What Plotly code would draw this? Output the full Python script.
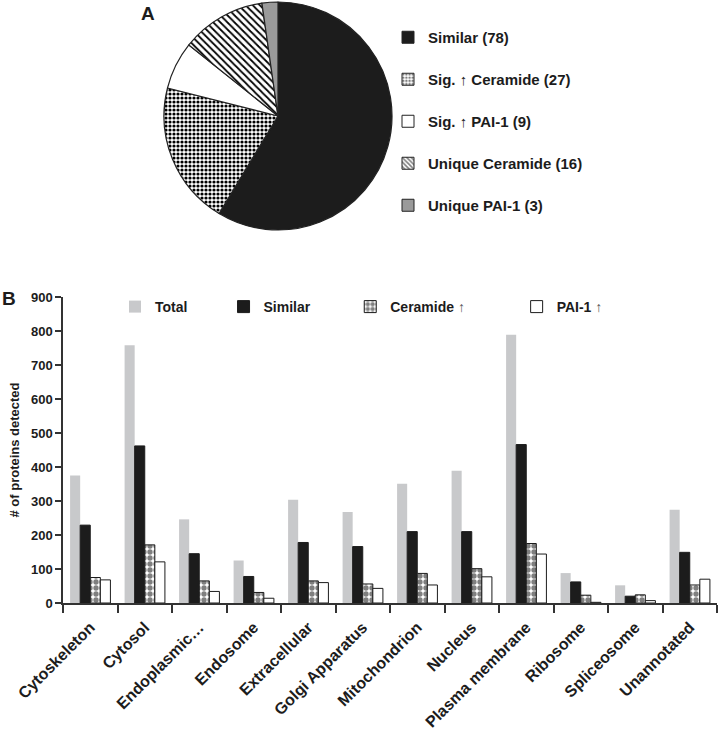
import plotly.graph_objects as go

# ---------------- data ----------------
pie_labels = ["Similar (78)", "Sig. \u2191 Ceramide (27)", "Sig. \u2191 PAI-1 (9)",
              "Unique Ceramide (16)", "Unique PAI-1 (3)"]
pie_values = [78, 27, 9, 16, 3]

categories = ["Cytoskeleton", "Cytosol", "Endoplasmic\u2026", "Endosome", "Extracellular",
              "Golgi Apparatus", "Mitochondrion", "Nucleus", "Plasma membrane",
              "Ribosome", "Spliceosome", "Unannotated"]
total = [375, 758, 246, 125, 304, 268, 351, 389, 789, 88, 52, 274]
similar = [229, 462, 145, 78, 178, 166, 210, 210, 466, 62, 20, 149]
ceramide = [75, 171, 65, 31, 65, 56, 87, 101, 175, 23, 24, 53]
pai1 = [68, 121, 34, 14, 60, 43, 53, 77, 144, 2, 7, 70]

bar_names = ["Total", "Similar", "Ceramide \u2191", "PAI-1 \u2191"]

W, H = 718, 730
FONT = "Liberation Sans, Arial, sans-serif"

fig = go.Figure()

# ---------------- pie ----------------
pie_colors = ["#1c1c1c", "white", "white", "white", "#9a9a9a"]
pie_pat_shape = ["", ".", "", "\\", ""]
fig.add_trace(go.Pie(
    labels=pie_labels, values=pie_values, sort=False, direction="clockwise",
    rotation=0, textinfo="none", hoverinfo="label+value", showlegend=False,
    domain=dict(x=[164 / W, 392 / W], y=[(H - 231) / H, (H - 1) / H]),
    marker=dict(colors=pie_colors, line=dict(color="#222", width=1.2),
                pattern=dict(shape=pie_pat_shape, fgcolor="black", bgcolor="white",
                             size=[4, 4, 4, 5, 4], solidity=[0.3, 0.5, 0.3, 0.35, 0.3])),
))

# pie legend entries (legend2) via dummy bars on a hidden axis
leg_fill = ["#1c1c1c", "white", "white", "white", "#9a9a9a"]
leg_shape = ["", ".", "", "\\", ""]
for i, lab in enumerate(pie_labels):
    fig.add_trace(go.Bar(
        x=[lab], y=[pie_values[i]], name=lab, xaxis="x2", yaxis="y2",
        legend="legend2", legendgroup="p%d" % i,
        marker=dict(color=leg_fill[i], line=dict(color="#222", width=1),
                    pattern=dict(shape=leg_shape[i], fgcolor="black", bgcolor="white",
                                 size=4, solidity=0.5)),
        showlegend=True, hoverinfo="skip",
    ))

# ---------------- bars ----------------
pad = "\u00a0"
bar_series = [total, similar, ceramide, pai1]
bar_colors = ["#c8c9cb", "#1c1c1c", "white", "white"]
bar_shapes = ["", "", ".", ""]
bar_lw = [0, 1, 1, 1]
arrow = "<span style='font-weight:normal;color:#555'>\u2191</span>"
leg_names = ["Total" + pad * 8, "Similar" + pad * 9,
             "Ceramide " + arrow + pad * 12, "PAI-1 " + arrow]
for name, ln, vals, col, shp, lw in zip(bar_names, leg_names, bar_series, bar_colors, bar_shapes, bar_lw):
    fig.add_trace(go.Bar(
        x=categories, y=vals, name=ln, legend="legend",
        marker=dict(color=col, line=dict(color="#1c1c1c", width=lw),
                    pattern=dict(shape=shp, fgcolor="black", bgcolor="white",
                                 size=6, solidity=0.62)),
        hovertemplate=name + " %{x}: %{y}<extra></extra>",
    ))

fig.update_layout(
    width=W, height=H, margin=dict(l=0, r=0, t=0, b=0, autoexpand=False),
    paper_bgcolor="white", plot_bgcolor="white",
    font=dict(family=FONT, size=13, color="#1c1c1c"),
    barmode="group", bargap=0.26, bargroupgap=0,
    xaxis=dict(domain=[63 / W, 717 / W], anchor="y", showline=True, linecolor="#333",
               linewidth=1.5, ticks="outside", tickson="boundaries", ticklen=8,
               tickcolor="#333", tickwidth=1.5, tickangle=-45, automargin=False,
               ticklabelstandoff=7,
               tickfont=dict(size=16, family=FONT, color="#1c1c1c", weight="bold"),
               showgrid=False),
    yaxis=dict(domain=[(H - 603) / H, (H - 297) / H], range=[0, 900], dtick=100,
               showline=True, linecolor="#333", linewidth=1.5, ticks="outside",
               ticklen=6, tickcolor="#333", tickwidth=1.5, showgrid=False, zeroline=False,
               automargin=False,
               tickfont=dict(size=13, family=FONT, color="#1c1c1c", weight="bold"),
               title=dict(text="# of proteins detected", standoff=8,
                          font=dict(size=13, family=FONT, color="#1c1c1c", weight="bold"))),
    xaxis2=dict(domain=[0.99, 1.0], anchor="y2", visible=False, automargin=False),
    yaxis2=dict(domain=[0.99, 1.0], anchor="x2", visible=False, range=[1000, 2000],
                automargin=False),
    legend=dict(orientation="h", x=115 / W, y=(H - 291) / H, xanchor="left", yanchor="top",
                bgcolor="rgba(0,0,0,0)", font=dict(size=14, family=FONT, weight="bold"),
                itemclick=False, traceorder="normal"),
    legend2=dict(orientation="v", x=388 / W, y=(H - 21) / H, xanchor="left", yanchor="top",
                 bgcolor="rgba(0,0,0,0)", tracegroupgap=19.5,
                 font=dict(size=15, family=FONT, weight="bold"), itemclick=False),
    annotations=[
        dict(text="<b>A</b>", x=139 / W, y=(H - 1) / H, xref="paper", yref="paper",
             xanchor="left", yanchor="top", showarrow=False, font=dict(size=19, family=FONT)),
        dict(text="<b>B</b>", x=0, y=(H - 286) / H, xref="paper", yref="paper",
             xanchor="left", yanchor="top", showarrow=False, font=dict(size=19, family=FONT)),
    ],
)

fig.write_html("out.html", post_script="document.body.style.margin='0';",
               config={"displayModeBar": False})
